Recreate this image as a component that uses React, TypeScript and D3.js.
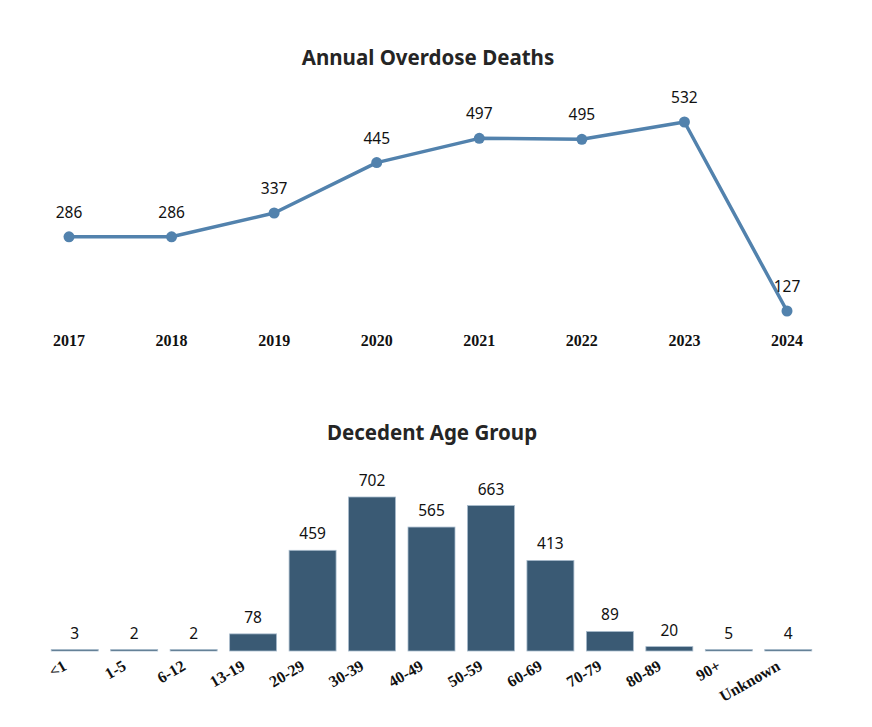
import * as React from "react";
import * as d3 from "d3";

const years = ["2017", "2018", "2019", "2020", "2021", "2022", "2023", "2024"];
const deaths = [286, 286, 337, 445, 497, 495, 532, 127];

const ageGroups = ["<1", "1-5", "6-12", "13-19", "20-29", "30-39", "40-49", "50-59", "60-69", "70-79", "80-89", "90+", "Unknown"];
const ageCounts = [3, 2, 2, 78, 459, 702, 565, 663, 413, 89, 20, 5, 4];

const W = 872;
const H = 727;
const LABEL_FONT = "'Noto Sans', 'Open Sans', sans-serif";
const AXIS_FONT = "'Liberation Serif', 'Times New Roman', serif";
const LINE_COLOR = "#5282ad";
const BAR_COLOR = "#3a5a74";

export default function App() {
  React.useEffect(() => {
    document.body.style.margin = "0";
  }, []);

  // line chart scales
  const xLine = d3.scalePoint<string>().domain(years).range([69, 787]);
  const yLine = d3
    .scaleLinear()
    .domain([d3.min(deaths)!, d3.max(deaths)!])
    .range([311, 122]);
  const line = d3
    .line<number>()
    .x((_, i) => xLine(years[i])!)
    .y((d) => yLine(d));

  // bar chart scales
  const xBar = d3
    .scaleBand<string>()
    .domain(ageGroups)
    .range([45, 818])
    .paddingInner(0.21)
    .paddingOuter(0.105);
  const yBar = d3
    .scaleLinear()
    .domain([0, d3.max(ageCounts)!])
    .range([651, 497]);

  return (
    <svg width={W} height={H} style={{ display: "block", background: "#fff" }}>
      {/* Annual line chart */}
      <text
        x={428}
        y={65}
        textAnchor="middle"
        fontFamily={LABEL_FONT}
        fontWeight="bold"
        fontSize={20.5}
        fill="#252525"
      >
        Annual Overdose Deaths
      </text>
      <path d={line(deaths) ?? ""} fill="none" stroke={LINE_COLOR} strokeWidth={3.5} strokeLinejoin="round" />
      {deaths.map((d, i) => (
        <g key={years[i]}>
          <circle cx={xLine(years[i])} cy={yLine(d)} r={5.5} fill={LINE_COLOR} />
          <text
            x={xLine(years[i])}
            y={yLine(d) - 19}
            textAnchor="middle"
            fontFamily={LABEL_FONT}
            fontSize={15.5}
            fill="#111"
          >
            {d}
          </text>
        </g>
      ))}
      {years.map((y) => (
        <text
          key={`yr-${y}`}
          x={xLine(y)}
          y={346}
          textAnchor="middle"
          fontFamily={AXIS_FONT}
          fontWeight="bold"
          fontSize={16}
          fill="#111"
        >
          {y}
        </text>
      ))}

      {/* Age group bar chart */}
      <text
        x={432}
        y={440}
        textAnchor="middle"
        fontFamily={LABEL_FONT}
        fontWeight="bold"
        fontSize={20.5}
        fill="#252525"
      >
        Decedent Age Group
      </text>
      {ageCounts.map((c, i) => {
        const g = ageGroups[i];
        const x = xBar(g)!;
        const top = Math.min(yBar(c), yBar(0) - 1.5);
        return (
          <g key={g}>
            <rect
              x={x}
              y={top}
              width={xBar.bandwidth()}
              height={yBar(0) - top}
              fill={BAR_COLOR}
              stroke="#a9bccd"
              strokeWidth={0.8}
            />
            <text
              x={x + xBar.bandwidth() / 2}
              y={top - 11}
              textAnchor="middle"
              fontFamily={LABEL_FONT}
              fontSize={15.5}
              fill="#111"
            >
              {c}
            </text>
            <text
              transform={`translate(${x + xBar.bandwidth() / 2 - 7},${yBar(0) + 18}) rotate(-30)`}
              textAnchor="end"
              fontFamily={AXIS_FONT}
              fontWeight="bold"
              fontSize={16}
              fill="#111"
            >
              {g}
            </text>
          </g>
        );
      })}
    </svg>
  );
}
